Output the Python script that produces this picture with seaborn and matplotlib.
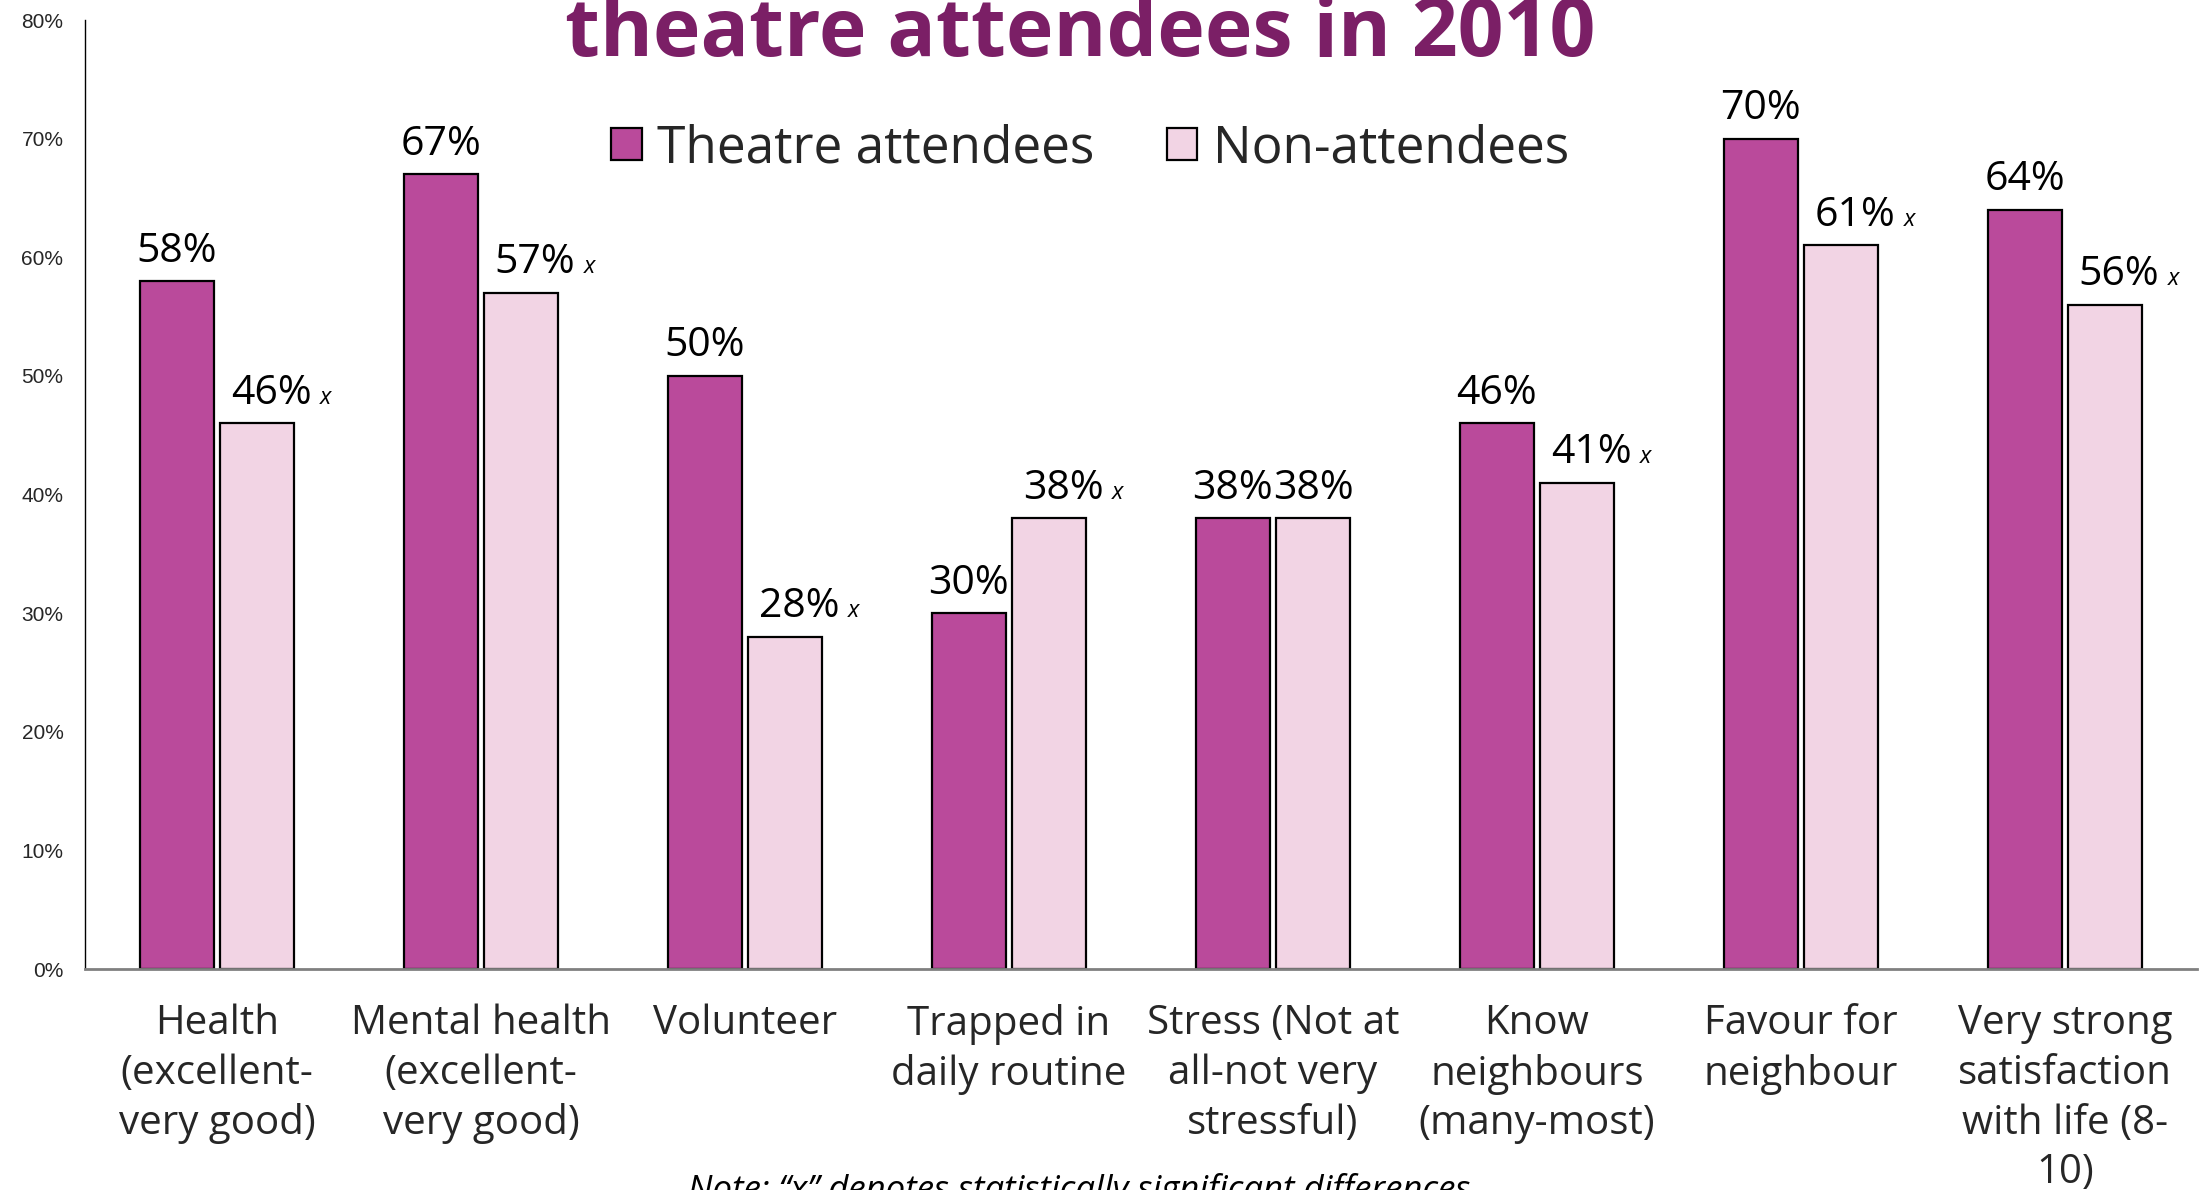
import matplotlib
matplotlib.use("Agg")
import matplotlib.pyplot as plt
import seaborn as sns
import pandas as pd
import numpy as np

# ---------------- data ----------------
categories = [
    "Health\n(excellent-\nvery good)",
    "Mental health\n(excellent-\nvery good)",
    "Volunteer",
    "Trapped in\ndaily routine",
    "Stress (Not at\nall-not very\nstressful)",
    "Know\nneighbours\n(many-most)",
    "Favour for\nneighbour",
    "Very strong\nsatisfaction\nwith life (8-\n10)",
]
attendees = [58, 67, 50, 30, 38, 46, 70, 64]
non_attendees = [46, 57, 28, 38, 38, 41, 61, 56]
significant = [True, True, True, True, False, True, True, True]
series_names = ["Theatre attendees", "Non-attendees"]
y_ticks = [0, 10, 20, 30, 40, 50, 60, 70, 80]
title_text = "theatre attendees in 2010"
note_text = "Note: \u201cx\u201d denotes statistically significant differences"

colors = {"Theatre attendees": "#BA4A9B", "Non-attendees": "#F2D4E4"}

# ---------------- style ----------------
sns.set_style("white")
plt.rcParams["font.family"] = ["Open Sans", "DejaVu Sans"]

df = pd.DataFrame({
    "Category": categories * 2,
    "Group": [series_names[0]] * len(categories) + [series_names[1]] * len(categories),
    "Value": attendees + non_attendees,
})

fig = plt.figure(figsize=(22.11, 11.90), dpi=100)
ax = fig.add_axes([0.03844, 0.18571, 0.95522, 0.79748])

sns.barplot(data=df, x="Category", y="Value", hue="Group", order=categories,
            hue_order=series_names, palette=colors, saturation=1,
            width=0.608, gap=0.086, edgecolor="black", linewidth=1.6,
            errorbar=None, ax=ax, legend=True)

handles, labels = ax.get_legend_handles_labels()
ax.get_legend().remove()

# value labels
series_vals = [attendees, non_attendees]
for si, cont in enumerate(ax.containers):
    for bi, bar in enumerate(cont):
        cx = bar.get_x() + bar.get_width() / 2
        h = bar.get_height()
        sig = (si == 1) and significant[bi]
        dx = 10 if sig else 0
        t = ax.annotate(f"{series_vals[si][bi]}%", xy=(cx, h), xytext=(dx, 14),
                        textcoords="offset points", ha="center", va="baseline",
                        fontsize=29.5, color="black")
        if sig:
            ax.annotate("x", xy=(1, 0), xycoords=t, xytext=(6, 3),
                        textcoords="offset points", ha="left", va="bottom",
                        fontsize=17, style="italic", color="black")

# axes
ax.set_xlim(-0.5, len(categories) - 0.5)
ax.set_ylim(0, 80)
ax.set_xlabel("")
ax.set_ylabel("")

ax.set_xticks(range(len(categories)))
ax.set_xticklabels(categories, fontsize=29, linespacing=1.3)
ax.tick_params(axis="x", which="major", length=0, pad=25)
ax.set_xticks(np.arange(-0.5, len(categories), 1), minor=True)
ax.tick_params(axis="x", which="minor", direction="inout", length=19.4,
               width=1, color="#404040")

ax.set_yticks(y_ticks)
ax.set_yticklabels([f"{v}%" for v in y_ticks], fontsize=15,
                   family=["Liberation Sans Narrow", "Liberation Sans"])
ax.tick_params(axis="y", direction="inout", length=11, width=1,
               color="#404040", pad=10)

for s in ["top", "right"]:
    ax.spines[s].set_visible(False)
ax.spines["left"].set_color("black")
ax.spines["left"].set_linewidth(1)
ax.spines["bottom"].set_color("#808080")
ax.spines["bottom"].set_linewidth(2)
ax.grid(False)

# legend
fig.legend(handles, labels, loc="center", bbox_to_anchor=(0.493, 0.875), ncol=2,
           frameon=False, fontsize=37, handlelength=0.6, handleheight=0.6,
           handletextpad=0.3, columnspacing=1.4)

# title and note
fig.text(0.4885, 0.953, title_text, ha="center", va="baseline", fontsize=58,
         fontweight="bold", color="#7B1F66")
fig.text(0.488, 0.0143, note_text, ha="center", va="top", fontsize=25,
         style="italic", color="black")

fig.savefig("out.png", dpi=100)
